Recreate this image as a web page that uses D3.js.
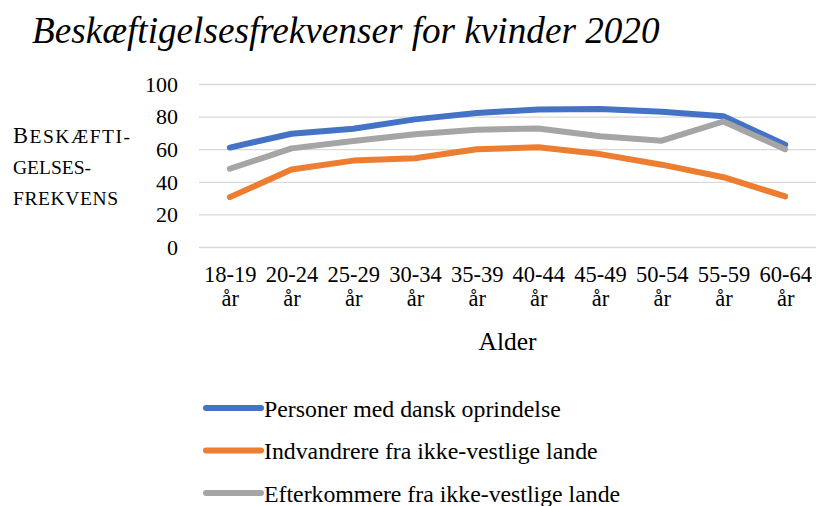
<!DOCTYPE html>
<html>
<head>
<meta charset="utf-8">
<script src="https://cdn.jsdelivr.net/npm/d3@7"></script>
<style>
  html, body { margin: 0; padding: 0; background: #fff; }
  svg { display: block; }
  svg text { font-family: "Liberation Serif", "Times New Roman", Tinos, "DejaVu Serif", serif; }
</style>
</head>
<body>
<svg id="chart" width="816" height="506"></svg>
<script>
// Age groups and employment rates (%) for women, 2020
const ageGroups = ["18-19", "20-24", "25-29", "30-34", "35-39", "40-44", "45-49", "50-54", "55-59", "60-64"];
const danish      = [61, 69.5, 72.5, 78.3, 82.2, 84.4, 84.6, 83, 80.2, 62.7];
const immigrants  = [30.6, 47.5, 53, 54.5, 60, 61.2, 57, 50.5, 42.8, 31];
const descendants = [48, 60.5, 65, 69.2, 72, 72.7, 68, 65.2, 77, 60];
const seriesNames = ["Personer med dansk oprindelse", "Indvandrere fra ikke-vestlige lande", "Efterkommere fra ikke-vestlige lande"];
const seriesColors = ["#4472C4", "#ED7D31", "#A5A5A5"];
const yTicks = [0, 20, 40, 60, 80, 100];

const series = [danish, immigrants, descendants];
const svg = d3.select("#chart");

const plot = { left: 199, right: 816, top: 84, bottom: 247 };

const x = d3.scalePoint().domain(ageGroups).range([plot.left, plot.right]).padding(0.5);
const y = d3.scaleLinear().domain([0, 100]).range([plot.bottom, plot.top]);

// Title
svg.append("text")
  .attr("x", 32).attr("y", 43)
  .attr("font-size", 37.2).attr("font-style", "italic")
  .attr("fill", "#000")
  .text("Beskæftigelsesfrekvenser for kvinder 2020");

// Gridlines and y tick labels
const yAxis = d3.axisLeft(y).tickValues(yTicks).tickSize(-(plot.right - plot.left)).tickPadding(21);
const gy = svg.append("g").attr("transform", `translate(${plot.left},0)`).call(yAxis);
gy.attr("font-family", null);
gy.select(".domain").remove();
gy.selectAll(".tick line").attr("stroke", "#D9D9D9").attr("stroke-width", 1.3);
gy.selectAll(".tick text").attr("font-size", 22).attr("fill", "#000").attr("dy", "0.33em");

// X axis category labels (two lines)
const xAxis = d3.axisBottom(x).tickSize(0).tickFormat(() => "");
const gx = svg.append("g").attr("transform", `translate(0,${plot.bottom})`).call(xAxis);
gx.attr("font-family", null);
gx.select(".domain").remove();
gx.selectAll(".tick").each(function(d) {
  const t = d3.select(this).append("text")
    .attr("text-anchor", "middle")
    .attr("font-size", 22.5).attr("fill", "#000");
  t.append("tspan").attr("x", 0).attr("y", 35).text(d);
  t.append("tspan").attr("x", 0).attr("y", 59).text("år");
});

// Axis titles
svg.append("text")
  .attr("x", (plot.left + plot.right) / 2).attr("y", 350)
  .attr("text-anchor", "middle").attr("font-size", 25.5).attr("fill", "#000")
  .text("Alder");

// Y title in small capitals: first letter full size, the rest smaller uppercase
const yTitleLines = [["B", "ESKÆFTI-"], ["", "GELSES-"], ["", "FREKVENS"]];
const yTitleBaselines = [143, 174, 205];
const yTitleWidths = [117, 78, 105];
yTitleLines.forEach((parts, i) => {
  const t = svg.append("text")
    .attr("x", 13).attr("y", yTitleBaselines[i]).attr("fill", "#000")
    .attr("textLength", yTitleWidths[i]).attr("lengthAdjust", "spacing");
  if (parts[0]) t.append("tspan").attr("font-size", 22.5).text(parts[0]);
  t.append("tspan").attr("font-size", 19.5).text(parts[1]);
});

// Lines
const line = d3.line().x((d, i) => x(ageGroups[i])).y(d => y(d));
series.forEach((vals, k) => {
  svg.append("path")
    .datum(vals)
    .attr("fill", "none")
    .attr("stroke", seriesColors[k])
    .attr("stroke-width", 6)
    .attr("stroke-linejoin", "round")
    .attr("stroke-linecap", "round")
    .attr("d", line);
});

// Legend
const legend = svg.append("g");
seriesNames.forEach((name, k) => {
  const ly = 408 + k * 42.5;
  legend.append("line")
    .attr("x1", 206).attr("x2", 261).attr("y1", ly).attr("y2", ly)
    .attr("stroke", seriesColors[k]).attr("stroke-width", 6)
    .attr("stroke-linecap", "round");
  legend.append("text")
    .attr("x", 264).attr("y", ly + 8.5)
    .attr("font-size", 23.8).attr("fill", "#000")
    .text(name);
});
</script>
</body>
</html>
